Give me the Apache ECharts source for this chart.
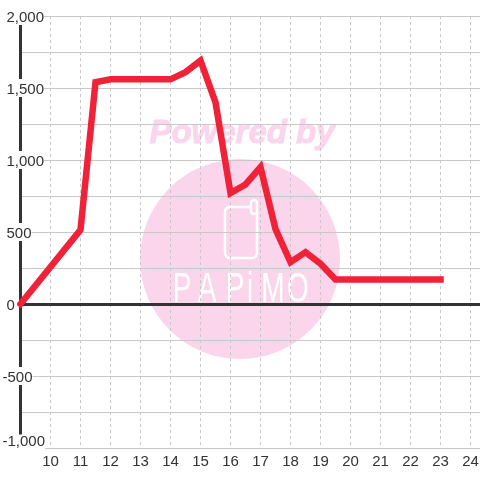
<!DOCTYPE html>
<html>
<head>
<meta charset="utf-8">
<style>
html, body { margin: 0; padding: 0; background: #fff; }
#chart { width: 480px; height: 480px; }
</style>
<script src="https://cdn.jsdelivr.net/npm/echarts@6/dist/echarts.min.js"></script>
</head>
<body>
<div id="chart"></div>
<script>
// values
const hours = [9, 11, 11.5, 12, 14, 14.5, 15, 15.5, 16, 16.5, 17, 17.5, 18, 18.5, 19, 19.5, 23];
const levels = [0, 515, 1540, 1560, 1560, 1610, 1690, 1400, 770, 830, 950, 520, 290, 360, 280, 170, 170];
const pink = '#fbd5ec';

// watermark logo letters
const logoLetters = ['P', 'A', 'P', 'i', 'M', 'O'];
const logoX = [182, 207, 235, 250, 273, 298];

function yLabel(v) {
    if (v % 500 !== 0) return '';
    const s = Math.abs(v).toLocaleString('en-US');
    if (v === -1000) return '{low|-' + s + '}';
    return v < 0 ? '{neg|-' + s + '}' : '{pos|' + s + '}';
}

const chart = echarts.init(document.getElementById('chart'));
chart.setOption({
    animation: false,
    backgroundColor: '#fff',
    textStyle: { fontFamily: 'Liberation Sans' },
    grid: { left: 20.5, right: -20.5, top: 16, bottom: 32, outerBoundsMode: 'none' },
    graphic: [
        { type: 'circle', z: -1, silent: true, shape: { cx: 240, cy: 259, r: 100 }, style: { fill: pink } },
        { type: 'text', z: -1, silent: true, x: 242, y: 134, style: { text: 'Powered by', fill: pink, stroke: pink, lineWidth: 1, align: 'center', verticalAlign: 'middle', font: 'italic bold 33px "Liberation Sans"' } },
        { type: 'rect', z: -1, silent: true, shape: { x: 225, y: 207, width: 32, height: 51, r: 5 }, style: { fill: 'none', stroke: '#fff', lineWidth: 2.5 } },
        { type: 'rect', z: -1, silent: true, shape: { x: 251, y: 200, width: 6, height: 14, r: 3 }, style: { fill: pink, stroke: '#fff', lineWidth: 2.5 } }
    ].concat(logoLetters.map((c, i) => ({
        type: 'text', z: -1, silent: true, x: logoX[i], y: 290, scaleY: 1.5,
        style: { text: c, fill: '#fff', align: 'center', verticalAlign: 'middle', font: '28px "Liberation Sans"' }
    }))),
    xAxis: {
        type: 'value',
        min: 9,
        max: 25,
        interval: 1,
        axisLine: { onZero: true, lineStyle: { color: '#333', width: 3 } },
        axisTick: { show: false },
        axisLabel: {
            color: '#333',
            fontSize: 15,
            margin: 6,
            formatter: v => (v > 9 && v < 25 ? String(v) : '')
        },
        splitLine: { show: true, lineStyle: { color: '#c8c8c8', type: [3, 3], width: 1 } }
    },
    yAxis: {
        type: 'value',
        min: -1000,
        max: 2000,
        interval: 250,
        axisLine: { show: true, lineStyle: { color: '#333', width: 3 } },
        axisTick: { show: false },
        axisLabel: {
            inside: true,
            margin: -18,
            align: 'left',
            color: '#333',
            fontSize: 15,
            backgroundColor: '#fff',
            formatter: yLabel,
            rich: {
                pos: { fontSize: 15, color: '#333', padding: [3, 0, 0, 4] },
                neg: { fontSize: 15, color: '#333', padding: [3, 0, 0, 0] },
                low: { fontSize: 15, color: '#333', padding: [0, 0, 12, 0] }
            }
        },
        splitLine: { show: true, lineStyle: { color: '#c8c8c8', width: 1 } }
    },
    series: [{
        type: 'line',
        data: hours.map((h, i) => [h, levels[i]]),
        showSymbol: false,
        lineStyle: { color: '#f02238', width: 6.5, cap: 'square', join: 'miter' }
    }]
});
</script>
</body>
</html>
